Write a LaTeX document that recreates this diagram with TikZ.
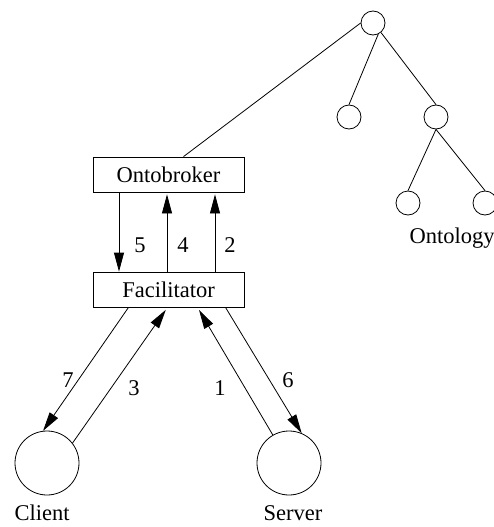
\documentclass[tikz,border=0pt]{standalone}
\usepackage{fontspec}
\setmainfont{Liberation Serif}
\usetikzlibrary{arrows.meta}
\begin{document}
\begin{tikzpicture}[x=1pt,y=-1pt,
  every node/.style={font=\fontsize{22.5}{24}\selectfont},
  ln/.style={line width=0.8pt},
  arr/.style={line width=0.8pt,-{Triangle[length=19pt,width=10pt]}},
  tc/.style={draw,circle,line width=0.8pt,minimum size=24pt,inner sep=0pt},
  bc/.style={draw,circle,line width=0.8pt,minimum size=64pt,inner sep=0pt},
  box/.style={draw,rectangle,line width=0.8pt,minimum width=151pt,minimum height=35pt,inner sep=0pt},
  lbl/.style={inner sep=0pt}]
\useasboundingbox (0,0) rectangle (494,527);
% tree
\node[tc] (root) at (373,23) {};
\node[tc] (c1) at (349,117) {};
\node[tc] (c2) at (436,117) {};
\node[tc] (g1) at (408,203) {};
\node[tc] (g2) at (485,203) {};
\draw[ln] (root.-65) -- (c1.north);
\draw[ln] (root.-50) -- (c2.north);
\draw[ln] (c2.south) -- (g1.north);
\draw[ln] (c2.south) -- (g2.north);
\node[lbl] (ontology) at (452,238) {Ontology};
% boxes
\node[box] (onto) at (168.5,174.5) {Ontobroker};
\node[box] (fac) at (168.5,289.5) {Facilitator};
\draw[ln] (root.west) -- ([xshift=15pt]onto.north);
\draw[arr] ([xshift=-49.5pt]onto.south) -- ([xshift=-49.5pt]fac.north);
\draw[arr,shorten >=2pt] ([xshift=-1.5pt]fac.north) -- ([xshift=-1.5pt]onto.south);
\draw[arr,shorten >=2pt] ([xshift=46.5pt]fac.north) -- ([xshift=46.5pt]onto.south);
\node[lbl] (l5) at (140,245) {5};
\node[lbl] (l4) at (183,245) {4};
\node[lbl] (l2) at (230,245) {2};
% client / server
\node[bc] (client) at (47,463) {};
\node[bc] (server) at (289,463) {};
\node[lbl] (clientl) at (42,513) {Client};
\node[lbl] (serverl) at (293,513) {Server};
\draw[arr] ([xshift=-40pt]fac.south) -- (client.97);
\draw[arr,shorten >=3pt] (client.38) -- ([xshift=-1pt]fac.south);
\draw[arr,shorten >=3pt] (server.120) -- ([xshift=29pt]fac.south);
\draw[arr] ([xshift=57pt]fac.south) -- (server.67);
\node[lbl] (l7) at (68,380) {7};
\node[lbl] (l3) at (134,388) {3};
\node[lbl] (l1) at (220,388) {1};
\node[lbl] (l6) at (288,380) {6};
\end{tikzpicture}
\end{document}
